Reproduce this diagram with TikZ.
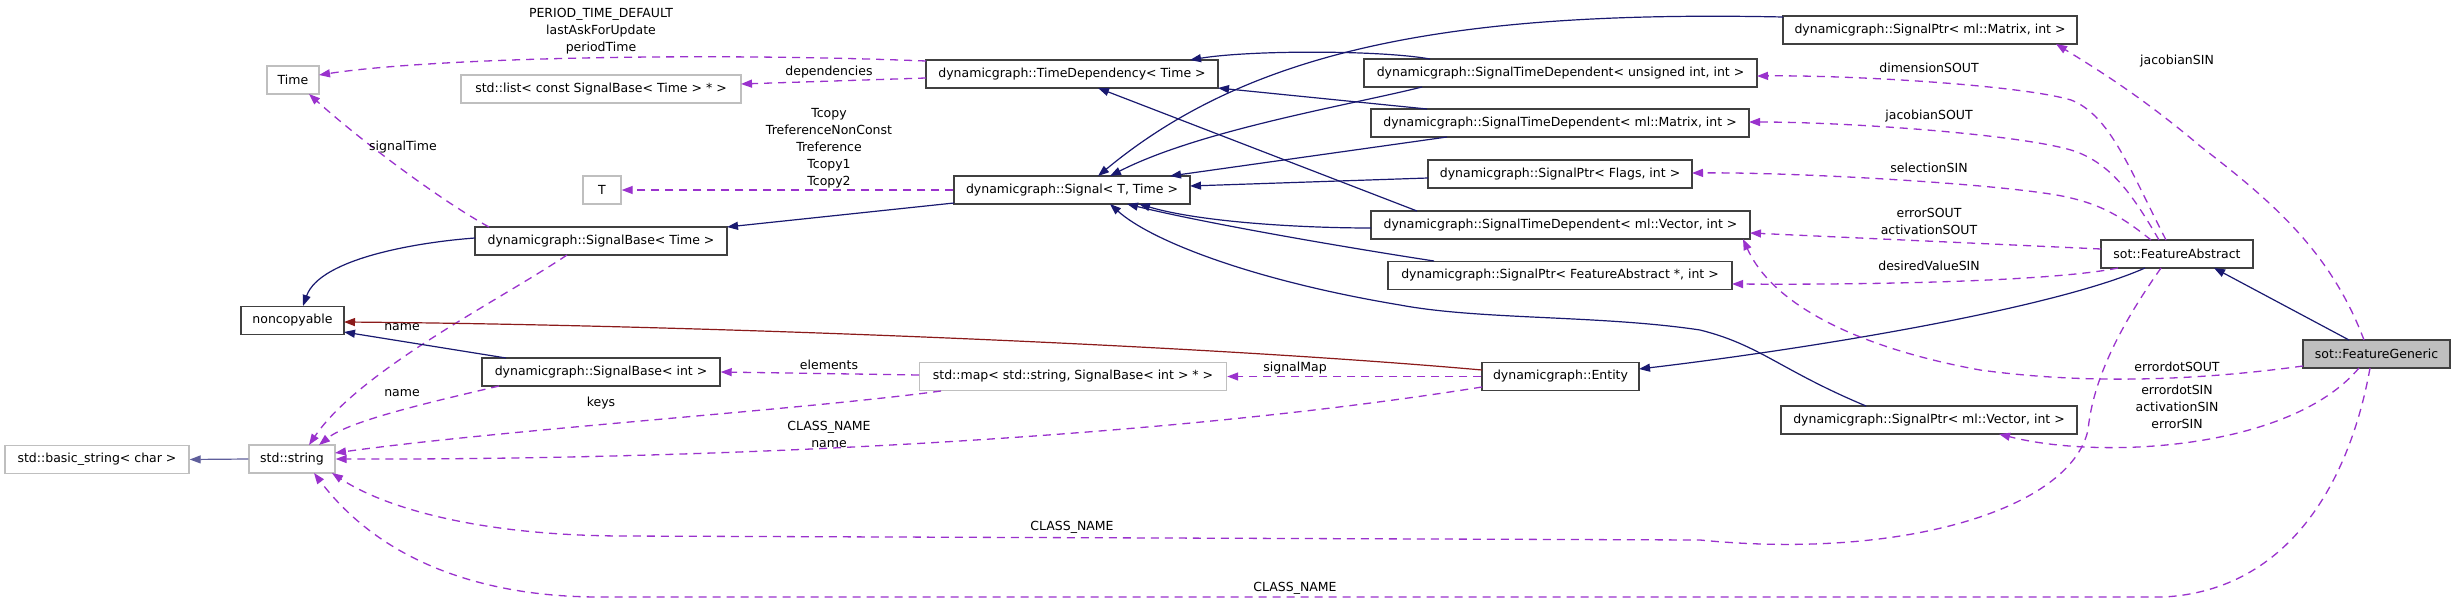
\documentclass[tikz,border=0pt]{standalone}
\usepackage{fontspec}
\setmainfont{DejaVu Sans}
\usetikzlibrary{arrows.meta,calc}
\definecolor{navy}{HTML}{191970}
\definecolor{orchid}{HTML}{9A32CD}
\definecolor{brick}{HTML}{8B1A1A}
\definecolor{grayb}{HTML}{BFBFBF}
\begin{document}
\begin{tikzpicture}[x=1pt,y=-1pt,
  every node/.style={font=\fontsize{12.5}{17}\selectfont, inner sep=0pt},
  cls/.style={draw=black!75, line width=1.4pt, minimum height=28pt, fill=white},
  ext/.style={draw=grayb, line width=1.4pt, minimum height=28pt, fill=white},
  lbl/.style={align=center},
  inh/.style={draw=navy, line width=1.2pt, -{Triangle[length=11pt,width=8pt]}},
  use/.style={draw=orchid, line width=1.3pt, dash pattern=on 8pt off 6pt, -{Triangle[length=11pt,width=8pt]}},
  priv/.style={draw=brick, line width=1.2pt, -{Triangle[length=11pt,width=8pt]}},
]
\fill[white] (0,0) rectangle (2456,607);
\useasboundingbox (0,0) rectangle (2456,607);

% nodes
\node[ext, minimum width=52] (time) at (293,80) {Time};
\node[ext, minimum width=280] (list) at (601,89) {std::list< const SignalBase< Time > * >};
\node[ext, minimum width=38] (T) at (602,190) {T};
\node[cls, minimum width=252] (sbt) at (601,241) {dynamicgraph::SignalBase< Time >};
\node[cls, minimum width=103] (nc) at (292.5,320.5) {noncopyable};
\node[cls, minimum width=238] (sbi) at (601,372) {dynamicgraph::SignalBase< int >};
\node[ext, minimum width=184] (bstr) at (97,459.5) {std::basic\_string< char >};
\node[ext, minimum width=86] (str) at (292,459) {std::string};
\node[cls, minimum width=292] (td) at (1072,74) {dynamicgraph::TimeDependency< Time >};
\node[cls, minimum width=236] (sig) at (1072,190) {dynamicgraph::Signal< T, Time >};
\node[ext, minimum width=307] (map) at (1073,376.5) {std::map< std::string, SignalBase< int > * >};
\node[cls, minimum width=157] (ent) at (1560.5,376.5) {dynamicgraph::Entity};
\node[cls, minimum width=393] (stdu) at (1560.5,73) {dynamicgraph::SignalTimeDependent< unsigned int, int >};
\node[cls, minimum width=378] (stdm) at (1560,123) {dynamicgraph::SignalTimeDependent< ml::Matrix, int >};
\node[cls, minimum width=264] (spf) at (1560,174) {dynamicgraph::SignalPtr< Flags, int >};
\node[cls, minimum width=379] (stdv) at (1560.5,225) {dynamicgraph::SignalTimeDependent< ml::Vector, int >};
\node[cls, minimum width=344] (spfa) at (1560,275.5) {dynamicgraph::SignalPtr< FeatureAbstract *, int >};
\node[cls, minimum width=294] (spm) at (1930,30) {dynamicgraph::SignalPtr< ml::Matrix, int >};
\node[cls, minimum width=152] (fa) at (2177,254) {sot::FeatureAbstract};
\node[cls, minimum width=296] (spv) at (1929,420) {dynamicgraph::SignalPtr< ml::Vector, int >};
\node[cls, minimum width=147, fill=grayb] (fg) at (2376.5,354) {sot::FeatureGeneric};

% edges
\draw[use] ($(td)+(-146,-13)$) .. controls (700,52) and (430,58) .. ($(time)+(26,-5)$);
\node[lbl] (l1) at (601,31) {PERIOD\_TIME\_DEFAULT\\lastAskForUpdate\\periodTime};
\draw[use] ($(td)+(-146,4)$) -- ($(list)+(140,-5)$);
\node (l2) at (829,72) {dependencies};
\draw[use] (sig.west) -- (T.east);
\node[lbl] (l3) at (829,148) {Tcopy\\TreferenceNonConst\\Treference\\Tcopy1\\Tcopy2};
\draw[inh] ($(sig)+(-118,13)$) -- ($(sbt)+(126,-14)$);
\draw[inh] ($(sbt)+(-126,-3)$) .. controls (420,242) and (320,258) .. ($(nc)+(10.5,-14.5)$);
\draw[use] ($(sbt)+(-112,-14)$) .. controls (440,200) and (360,140) .. ($(time)+(16,14)$);
\node (l6) at (403,147) {signalTime};
\draw[use] ($(sbt)+(-34,14)$) .. controls (500,300) and (360,370) .. ($(str)+(17,-14)$);
\node (l7) at (402,327) {name};
\draw[inh] ($(sbi)+(-95,-14)$) -- ($(nc)+(51.5,11.5)$);
\draw[use] ($(sbi)+(-102,14)$) .. controls (440,400) and (350,420) .. ($(str)+(27,-14)$);
\node (l9) at (402,393) {name};
\draw[use] ($(map)+(-154,-1.5)$) -- (sbi.east);
\node (l10) at (829,365) {elements};
\draw[use] ($(map)+(-132,14.5)$) .. controls (800,410) and (500,430) .. ($(str)+(43,-6)$);
\node (l11) at (601,403) {keys};
\draw[use] ($(ent)+(-78.5,10.5)$) .. controls (1150,440) and (700,460) .. (str.east);
\node[lbl] (l12) at (829,434) {CLASS\_NAME\\name};
\draw[use] (ent.west) -- (map.east);
\node (l13) at (1295,368) {signalMap};
\draw[priv] ($(ent)+(-78.5,-6.5)$) .. controls (1200,345) and (700,325) .. ($(nc)+(51.5,1.5)$);
\draw[inh] ($(fa)+(-32,14)$) .. controls (2050,310) and (1800,350) .. ($(ent)+(78.5,-7.5)$);
\draw[inh] ($(fg)+(-27.5,-14)$) -- ($(fa)+(37,14)$);
\draw[inh] ($(spv)+(-63,-14)$) .. controls (1780,370) and (1760,345) .. (1700,330) .. controls (1600,315) and (1480,320) .. (1400,305) .. controls (1250,280) and (1150,240) .. ($(sig)+(38,14)$);
\draw[inh] ($(spm)+(-147,-13)$) .. controls (1450,10) and (1250,50) .. ($(sig)+(26,-14)$);
\draw[inh] ($(stdu)+(-130.5,-14)$) .. controls (1380,50) and (1250,50) .. ($(td)+(118,-14)$);
\draw[inh] ($(stdu)+(-138.5,14)$) .. controls (1350,105) and (1200,130) .. ($(sig)+(38,-14)$);
\draw[inh] ($(stdm)+(-133,-14)$) -- ($(td)+(146,14)$);
\draw[inh] ($(stdm)+(-113,14)$) -- ($(sig)+(98,-14)$);
\draw[inh] ($(spf)+(-132,4)$) -- ($(sig)+(118,-4)$);
\draw[inh] ($(stdv)+(-143.5,-14)$) -- ($(td)+(26,14)$);
\draw[inh] ($(stdv)+(-189.5,3)$) .. controls (1300,228) and (1200,222) .. ($(sig)+(67,14)$);
\draw[inh] ($(spfa)+(-126,-14.5)$) .. controls (1330,245) and (1200,222) .. ($(sig)+(55,14)$);
\draw[use] ($(fa)+(-11,-14)$) .. controls (2130,170) and (2110,115) .. (2071,100) .. controls (2020,85) and (1850,75) .. ($(stdu)+(196.5,3)$);
\node (l27) at (1929,68) {dimensionSOUT};
\draw[use] ($(fa)+(-18,-14)$) .. controls (2130,190) and (2110,165) .. (2077,152) .. controls (2030,135) and (1850,122) .. ($(stdm)+(189,-1)$);
\node (l28) at (1929,116) {jacobianSOUT};
\draw[use] ($(fa)+(-26,-14)$) .. controls (2120,215) and (2100,205) .. (2071,198) .. controls (2020,185) and (1800,172) .. ($(spf)+(132,-1)$);
\node (l29) at (1929,168) {selectionSIN};
\draw[use] ($(fa)+(-76,-5)$) -- ($(stdv)+(189.5,8)$);
\node[lbl] (l30) at (1929,221) {errorSOUT\\activationSOUT};
\draw[use] ($(fa)+(-59,14)$) .. controls (2060,280) and (1900,285) .. ($(spfa)+(172,8.5)$);
\node (l31) at (1929,266) {desiredValueSIN};
\draw[use] ($(fg)+(-12.5,-14)$) .. controls (2330,250) and (2270,200) .. (2200,146) .. controls (2140,95) and (2090,65) .. ($(spm)+(126,14)$);
\node (l32) at (2177,61) {jacobianSIN};
\draw[use] ($(fg)+(-73.5,12)$) .. controls (2200,380) and (2090,385) .. (1980,370) .. controls (1870,350) and (1775,310) .. ($(stdv)+(182.5,14)$);
\node (l33) at (2177,367) {errordotSOUT};
\draw[use] ($(fg)+(-17.5,14)$) .. controls (2290,450) and (2100,460) .. ($(spv)+(70,14)$);
\node[lbl] (l34) at (2177,407) {errordotSIN\\activationSIN\\errorSIN};
\draw[use] ($(fa)+(-16,14)$) .. controls (2110,340) and (2092,390) .. (2088,430) .. controls (2070,510) and (1900,560) .. (1700,540) -- (620,536) .. controls (470,535) and (380,505) .. ($(str)+(40,14)$);
\node (l35) at (1072,527) {CLASS\_NAME};
\draw[use] ($(fg)+(-6.5,14)$) .. controls (2350,480) and (2290,590) .. (2164,597) -- (600,597) .. controls (480,597) and (380,560) .. ($(str)+(22,14)$);
\node (l36) at (1295,588) {CLASS\_NAME};
\draw[inh, draw=navy!70] (str.west) -- (bstr.east);
\end{tikzpicture}
\end{document}
